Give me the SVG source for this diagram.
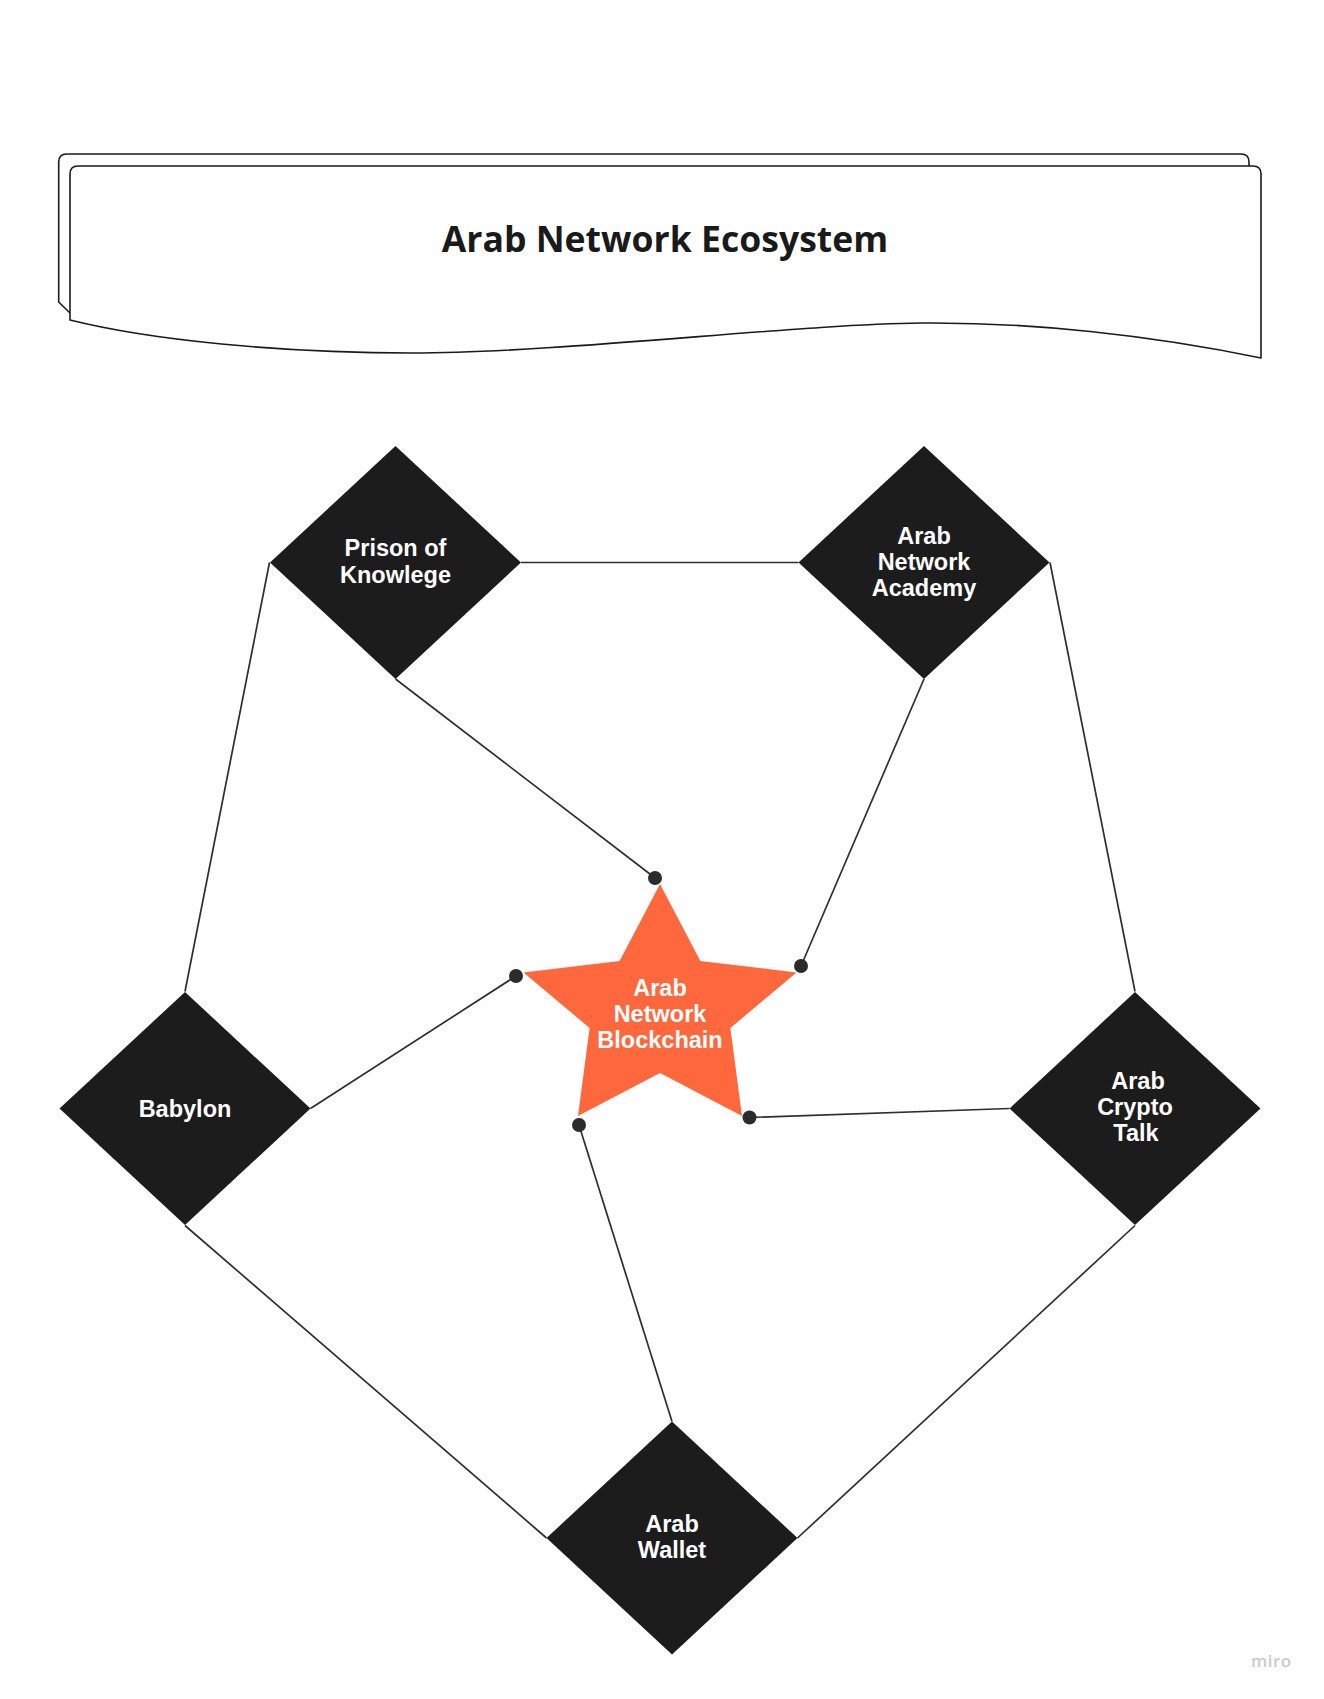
<svg xmlns="http://www.w3.org/2000/svg" xmlns:xlink="http://www.w3.org/1999/xlink" width="1324" height="1699" viewBox="0 0 1324 1699">
<style>
.card{fill:#ffffff;stroke:#1a1a1a;stroke-width:1.6;stroke-linejoin:round}
.title{font-family:"Open Sans","Noto Sans",sans-serif;font-weight:700;font-size:35.6px;fill:#1a1a1a;text-anchor:middle}
.dia{fill:#1c1c1c}
.lbl{font-family:"Liberation Sans",Arial,sans-serif;font-weight:700;font-size:23.5px;fill:#ffffff;text-anchor:middle}
.edge{stroke:#2e2e2e;stroke-width:1.7;fill:none}
.dot{fill:#2b2b2b}
.star{fill:#ff683d}
.miro{font-family:"Open Sans",sans-serif;font-weight:600;font-size:17px;fill:#c9c9d1;letter-spacing:0.5px}
</style>
<defs>
<path id="dia" d="M0,-116.5 L125.5,0 L0,116.5 L-125.5,0 Z"/>
</defs>
<rect width="1324" height="1699" fill="#ffffff"/>
<g id="title-card">
<path class="card" d="M70,313 L58.7,302 V162 Q58.7,154 66.7,154 H1241 Q1249,154 1249,162 V300 Z"/>
<path class="card" d="M70,320 V174 Q70,166 78,166 H1253 Q1261,166 1261,174 V358 C1150,335 1030,322 921,323 C800,324 560,353 412,353 C280,353 150,340 70,320 Z"/>
<text class="title" x="665" y="251.5">Arab Network Ecosystem</text>
</g>
<g id="connectors">
<line class="edge" x1="521" y1="562.5" x2="798.5" y2="562.5"/>
<line class="edge" x1="269.5" y1="562.5" x2="185" y2="991.5"/>
<line class="edge" x1="1050" y1="562.5" x2="1135" y2="991.5"/>
<line class="edge" x1="185" y1="1225.5" x2="546.5" y2="1538"/>
<line class="edge" x1="1135" y1="1225.5" x2="797.5" y2="1538"/>
<line class="edge" x1="395.5" y1="679" x2="654.5" y2="877.5"/>
<line class="edge" x1="924" y1="679" x2="801" y2="966"/>
<line class="edge" x1="310.5" y1="1108.5" x2="516" y2="976"/>
<line class="edge" x1="1009.5" y1="1108.5" x2="749.5" y2="1117.5"/>
<line class="edge" x1="672" y1="1421.5" x2="579" y2="1125"/>
</g>
<g id="node-blockchain">
<polygon class="star" points="660,884 700.4,961 796.5,972.5 730.4,1028 742,1116 660,1073 578,1116 589.6,1028 523.5,972.5 619.6,961"/>
<text class="lbl" x="660" y="996">Arab</text>
<text class="lbl" x="660" y="1022">Network</text>
<text class="lbl" x="660" y="1048">Blockchain</text>
</g>
<g id="dots">
<circle class="dot" cx="655" cy="878" r="7"/>
<circle class="dot" cx="801" cy="966" r="7"/>
<circle class="dot" cx="516" cy="976" r="7"/>
<circle class="dot" cx="749.5" cy="1117.5" r="7"/>
<circle class="dot" cx="579" cy="1125" r="7"/>
</g>
<g id="node-prison">
<use xlink:href="#dia" href="#dia" class="dia" x="395.5" y="562.5"/>
<text class="lbl" x="395.5" y="556">Prison of</text>
<text class="lbl" x="395.5" y="582.5">Knowlege</text>
</g>
<g id="node-academy">
<use xlink:href="#dia" href="#dia" class="dia" x="924" y="562.5"/>
<text class="lbl" x="924" y="543.5">Arab</text>
<text class="lbl" x="924" y="569.5">Network</text>
<text class="lbl" x="924" y="595.5">Academy</text>
</g>
<g id="node-babylon">
<use xlink:href="#dia" href="#dia" class="dia" x="185" y="1108.5"/>
<text class="lbl" x="185" y="1116.5">Babylon</text>
</g>
<g id="node-crypto">
<use xlink:href="#dia" href="#dia" class="dia" x="1135" y="1108.5"/>
<text class="lbl" x="1138" y="1088.5">Arab</text>
<text class="lbl" x="1135" y="1114.5">Crypto</text>
<text class="lbl" x="1136" y="1140.5">Talk</text>
</g>
<g id="node-wallet">
<use xlink:href="#dia" href="#dia" class="dia" x="672" y="1538"/>
<text class="lbl" x="672" y="1531.5">Arab</text>
<text class="lbl" x="672" y="1557.5">Wallet</text>
</g>
<text class="miro" x="1251" y="1667">miro</text>
</svg>
